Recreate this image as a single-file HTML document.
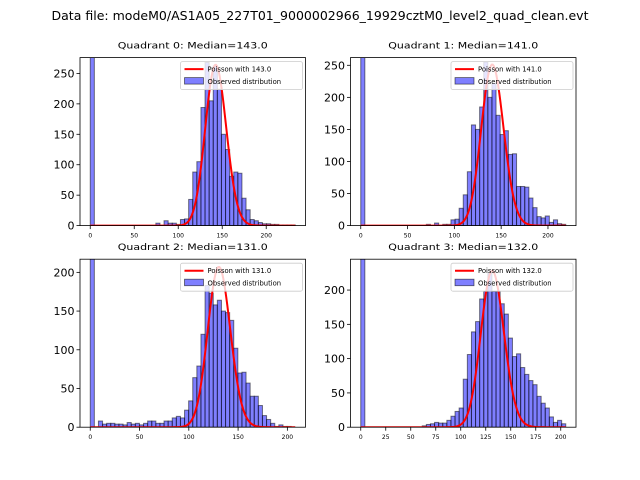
<!DOCTYPE html>
<html><head><meta charset="utf-8"><style>
html,body{margin:0;padding:0;background:#fff;}
svg{display:block;font-family:"DejaVu Sans","Liberation Sans",sans-serif;}
</style></head><body>
<svg id="fig" width="640" height="480" viewBox="0 0 640 480" xmlns="http://www.w3.org/2000/svg">
<rect width="640" height="480" fill="#fff"/>
<text x="320" y="20" text-anchor="middle" font-size="12" textLength="537" lengthAdjust="spacingAndGlyphs">Data file: modeM0/AS1A05_227T01_9000002966_19929cztM0_level2_quad_clean.evt</text>
</svg>
<script>
// ---- data ----
const quadrants = ["Quadrant 0","Quadrant 1","Quadrant 2","Quadrant 3"];
const medians = [143.0, 141.0, 131.0, 132.0];
const dataMax = [233, 219, 208, 205];
const yMax = [276, 262, 217, 245];
const curvePeaks = [264, 251, 207, 228];
const yTicks0 = [0,50,100,150,200,250];
const yTicks1 = [0,50,100,150,200,250];
const yTicks2 = [0,50,100,150,200];
const yTicks3 = [0,50,100,150,200];
const xTicks0 = [0,50,100,150,200];
const xTicks1 = [0,50,100,150,200];
const xTicks2 = [0,50,100,150,200];
const xTicks3 = [0,25,50,75,100,125,150,175,200];
const counts0 = [1000,0,0,0,0,0,0,0,0,0,0,0,0,0,0,0,4,0,8,4,4,2,10,11,43,88,105,194,268,205,262,224,150,125,81,88,86,45,26,10,8,5,3,3,2,2,1,1,1,1];
const counts1 = [1000,0,0,0,0,0,0,0,0,0,0,0,0,0,0,0,2,0,4,0,2,2,9,10,27,48,84,157,150,185,255,200,222,172,142,148,111,112,61,61,60,43,28,14,12,15,5,9,3,2];
const counts2 = [1000,0,8,4,5,5,4,4,3,6,4,5,3,5,8,8,5,5,8,8,12,14,12,22,34,64,79,120,183,173,158,164,150,148,138,102,70,71,57,40,40,28,15,10,5,1,3,1,1,0];
const counts3 = [1000,0,0,0,0,0,0,0,0,0,0,0,0,0,0,2,4,5,7,6,6,10,16,23,28,70,106,139,154,187,198,225,198,198,180,165,130,103,107,87,77,68,62,45,35,28,15,7,10,5];
const yTicksAll = [yTicks0,yTicks1,yTicks2,yTicks3];
const xTicksAll = [xTicks0,xTicks1,xTicks2,xTicks3];
const countsAll = [counts0,counts1,counts2,counts3];

const NS = "http://www.w3.org/2000/svg";
const svg = document.getElementById('fig');
function mk(tag, attrs, parent){
  const e = document.createElementNS(NS, tag);
  for (const k in attrs) e.setAttribute(k, attrs[k]);
  (parent||svg).appendChild(e);
  return e;
}
function lnFact(k){ let s=0; for(let i=2;i<=k;i++) s+=Math.log(i); return s; }
function pmf(k, lam){ return Math.exp(k*Math.log(lam) - lam - lnFact(k)); }

const axLeft = [80, 350.5, 80, 350.5];
const axTop = [57.6, 57.6, 259.2, 259.2];
const axW = 225.5, axH = 168;

for (let p=0;p<4;p++){
  const L = axLeft[p], T = axTop[p], B = T+axH, R = L+axW;
  const D = dataMax[p];
  const x0 = -0.05*D, x1 = 1.05*D;
  const sx = v => L + (v - x0)/(x1-x0)*axW;
  const sy = v => B - v/yMax[p]*axH;
  const g = mk('g', {});
  
  
  const t = mk('text', {x: (L+R)/2, y: T-9, 'text-anchor':'middle', 'font-size':'8.5', textLength: 150, lengthAdjust:'spacingAndGlyphs'}, g);
  t.textContent = quadrants[p] + ": Median=" + medians[p].toFixed(1);
  
  
  const cp = mk('clipPath', {id:'clip'+p}, g);
  mk('rect', {x:L, y:T, width:axW, height:axH}, cp);
  const bars = mk('g', {'clip-path':'url(#clip'+p+')'}, g);
  
  
  const counts = countsAll[p];
  const bw = D / counts.length;
  counts.forEach((c,i)=>{
    if (c<=0) return;
    const xa = sx(i*bw), xb = sx((i+1)*bw);
    const r = mk('rect', {x:xa, y:sy(c), width:xb-xa, height:B-sy(c), fill:'rgba(0,0,255,0.5)', stroke:'rgba(0,0,0,0.5)', 'stroke-width':'1'}, bars);
    
    
  });
  const lam = medians[p];
  const pk = pmf(Math.round(lam), lam);
  let d = '';
  for (let k=0;k<=D;k++){
    const v = curvePeaks[p]*pmf(k,lam)/pk;
    d += (k===0?'M':'L') + sx(k).toFixed(2) + ',' + sy(v).toFixed(2);
  }
  const curve = mk('path', {d:d, fill:'none', stroke:'#ff0000', 'stroke-width':'2', 'clip-path':'url(#clip'+p+')'}, g);
  
  
  const frame = mk('rect', {x:L, y:T, width:axW, height:axH, fill:'none', stroke:'#000', 'stroke-width':'0.8'}, g);
  
  
  yTicksAll[p].forEach(v=>{
    const y = sy(v);
    mk('line', {x1:L-3.5, x2:L, y1:y, y2:y, stroke:'#000', 'stroke-width':'0.8'}, g);
    const tl = mk('text', {x:L-5.5, y:y+4, 'text-anchor':'end', 'font-size':'11'}, g);
    tl.textContent = v;
    
    
  });
  xTicksAll[p].forEach(v=>{
    const x = sx(v);
    mk('line', {x1:x, x2:x, y1:B, y2:B+3.5, stroke:'#000', 'stroke-width':'0.8'}, g);
    const tl = mk('text', {x:x, y:B+12, 'text-anchor':'middle', 'font-size':'6'}, g);
    tl.textContent = v;
    
    
  });
  const lg = mk('g', {}, g);
  
  
  const lw = 122, lh = 28, lx = R-3-lw, ly = T+4;
  mk('rect', {x:lx, y:ly, width:lw, height:lh, rx:2, fill:'rgba(255,255,255,0.8)', stroke:'#ccc', 'stroke-width':'0.8'}, lg);
  mk('line', {x1:lx+4, x2:lx+23, y1:ly+7.5, y2:ly+7.5, stroke:'#ff0000', 'stroke-width':'2'}, lg);
  const t1 = mk('text', {x:lx+27, y:ly+10, 'font-size':'6.8'}, lg);
  t1.textContent = "Poisson with " + medians[p].toFixed(1);
  
  
  mk('rect', {x:lx+4, y:ly+16, width:19, height:6.5, fill:'rgba(0,0,255,0.5)', stroke:'rgba(0,0,0,0.6)', 'stroke-width':'0.8'}, lg);
  const t2 = mk('text', {x:lx+27, y:ly+22.5, 'font-size':'6.8'}, lg);
  t2.textContent = "Observed distribution";
  
  
}
</script>
</body></html>
